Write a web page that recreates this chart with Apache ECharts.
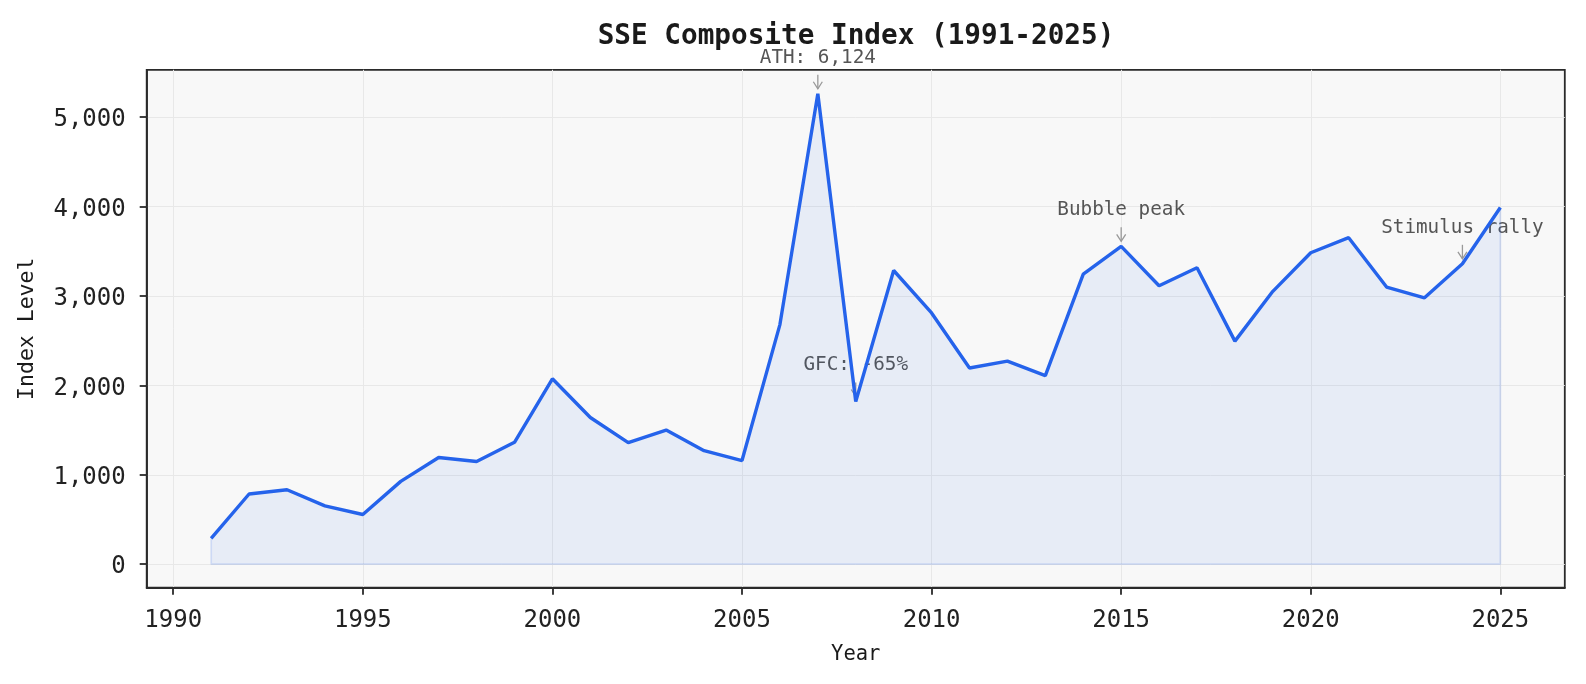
<!DOCTYPE html>
<html>
<head>
<meta charset="utf-8">
<script src="https://cdn.jsdelivr.net/npm/echarts@6/dist/echarts.min.js"></script>
<style>
html, body { margin: 0; padding: 0; background: #fff; }
#main { width: 1586px; height: 684px; }
</style>
</head>
<body>
<div id="main"></div>
<script>
// 数据
var years = [1991, 1992, 1993, 1994, 1995, 1996, 1997, 1998, 1999, 2000,
    2001, 2002, 2003, 2004, 2005, 2006, 2007, 2008, 2009, 2010,
    2011, 2012, 2013, 2014, 2015, 2016, 2017, 2018, 2019, 2020,
    2021, 2022, 2023, 2024, 2025];
var values = [289, 785, 833, 652, 556, 926, 1193, 1148, 1363, 2074,
    1641, 1359, 1500, 1270, 1159, 2680, 5262, 1820, 3285, 2810,
    2195, 2272, 2110, 3245, 3555, 3115, 3315, 2495, 3052, 3484,
    3652, 3100, 2980, 3360, 3990];
var xTicks = [1990, 1995, 2000, 2005, 2010, 2015, 2020, 2025];
var yTicks = [0, 1000, 2000, 3000, 4000, 5000];
var noteYears = [2007, 2008, 2015, 2024];
var noteTexts = ['ATH: 6,124', 'GFC: -65%', 'Bubble peak', 'Stimulus rally'];

var FONT = 'DejaVu Sans Mono';

var lineData = years.map(function (y, i) { return [y, values[i]]; });
var last = years.length - 1;
var edgeData = [
    [years[0], values[0]], [years[0], 0],
    [years[last], 0], [years[last], values[last]]
];

var myChart = echarts.init(document.getElementById('main'));
var option = {
    backgroundColor: '#fff',
    animation: false,
    title: {
        text: 'SSE Composite Index (1991-2025)',
        left: 851,
        top: 18,
        textAlign: 'center',
        textStyle: { fontFamily: FONT, fontWeight: 'bold', fontSize: 27.7, color: '#1a1a1a' }
    },
    grid: {
        left: 146.7, right: 21.2, top: 69.8, bottom: 96.3,
        show: true,
        backgroundColor: '#f8f8f8',
        borderColor: '#2a2a2a',
        borderWidth: 1.8
    },
    xAxis: {
        type: 'value',
        min: 1989.3,
        max: 2026.7,
        splitNumber: 8,
        name: 'Year',
        nameLocation: 'middle',
        nameGap: 56,
        nameTextStyle: { fontFamily: FONT, fontSize: 20.5, color: '#1a1a1a' },
        axisLine: { show: true, onZero: false, lineStyle: { color: '#2a2a2a', width: 1.8 } },
        axisTick: { show: true, customValues: xTicks, length: 7, lineStyle: { color: '#2a2a2a', width: 1.8 } },
        axisLabel: {
            customValues: xTicks,
            margin: 21,
            fontFamily: FONT, fontSize: 24, color: '#222',
            formatter: function (v) { return String(v); }
        },
        splitLine: { show: true, lineStyle: { color: '#e8e8e8', width: 1 } }
    },
    yAxis: {
        type: 'value',
        min: -263,
        max: 5530,
        name: 'Index Level',
        nameLocation: 'middle',
        nameGap: 108,
        nameTextStyle: { fontFamily: FONT, fontSize: 21.5, color: '#1a1a1a' },
        axisLine: { show: true, onZero: false, lineStyle: { color: '#2a2a2a', width: 1.8 } },
        axisTick: { show: true, customValues: yTicks, length: 7, lineStyle: { color: '#2a2a2a', width: 1.8 } },
        axisLabel: {
            customValues: yTicks,
            margin: 21,
            fontFamily: FONT, fontSize: 24, color: '#222',
            formatter: function (v) {
                return '{a|' + String(v).replace(/\B(?=(\d{3})+(?!\d))/g, ',') + '}';
            },
            rich: {
                a: { fontFamily: FONT, fontSize: 24, color: '#222', padding: [6, 0, 0, 0] }
            }
        },
        splitLine: { show: true, lineStyle: { color: '#e8e8e8', width: 1 } }
    },
    series: [
        {
            name: 'edge',
            type: 'line',
            data: edgeData,
            symbol: 'none',
            silent: true,
            z: 2,
            lineStyle: { color: 'rgba(37,99,235,0.15)', width: 1.8 }
        },
        {
            name: 'SSE',
            type: 'line',
            data: lineData,
            symbol: 'none',
            z: 3,
            lineStyle: { color: '#2563eb', width: 3.4 },
            areaStyle: { color: 'rgba(37,99,235,0.11)' }
        }
    ]
};
myChart.setOption(option, true);

// 标注
var elements = [];
noteYears.forEach(function (yr, k) {
    var v = values[years.indexOf(yr)];
    var p = myChart.convertToPixel({ gridIndex: 0 }, [yr, v]);
    elements.push({
        type: 'text', z: 1,
        style: {
            x: p[0], y: p[1] - 36, text: noteTexts[k],
            fontFamily: FONT, fontSize: 19.3, fill: '#555',
            align: 'center', verticalAlign: 'middle'
        }
    });
    elements.push({
        type: 'line', z: 1,
        shape: { x1: p[0], y1: p[1] - 19, x2: p[0], y2: p[1] - 5 },
        style: { stroke: '#999', lineWidth: 1.3 }
    });
    elements.push({
        type: 'polyline', z: 1,
        shape: { points: [[p[0] - 4.5, p[1] - 12], [p[0], p[1] - 5], [p[0] + 4.5, p[1] - 12]] },
        style: { stroke: '#999', lineWidth: 1.3, fill: null }
    });
});
myChart.setOption({ graphic: { elements: elements } });
</script>
</body>
</html>
